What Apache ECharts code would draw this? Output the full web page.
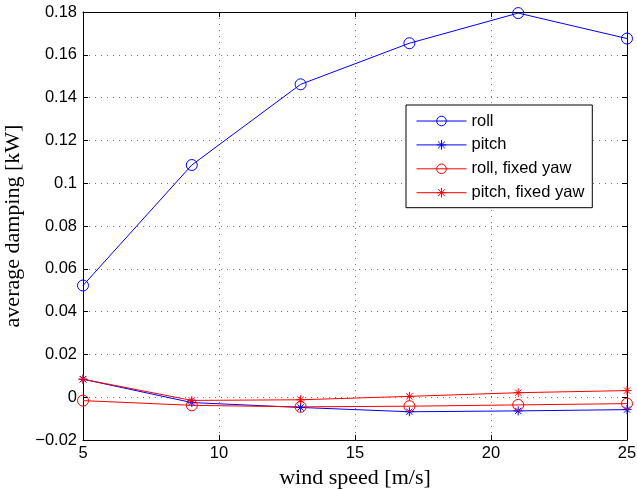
<!DOCTYPE html>
<html>
<head>
<meta charset="utf-8">
<script src="https://cdn.jsdelivr.net/npm/echarts@6/dist/echarts.min.js"></script>
<style>
  html, body { margin: 0; padding: 0; background: #fff; }
  #chart { width: 637px; height: 490px; }
</style>
</head>
<body>
<div id="chart"></div>
<script>
// wind speeds [m/s]
const windSpeed = [5, 9, 13, 17, 21, 25];
// average damping [kW]
const roll = [0.0522, 0.1085, 0.1462, 0.1654, 0.1795, 0.1676];
const pitch = [0.0084, -0.0025, -0.0048, -0.0068, -0.0064, -0.0058];
const rollFixedYaw = [-0.0016, -0.0038, -0.0045, -0.0042, -0.0036, -0.0030];
const pitchFixedYaw = [0.0084, -0.0015, -0.0012, 0.0004, 0.0021, 0.0031];

const seriesNames = ['roll', 'pitch', 'roll, fixed yaw', 'pitch, fixed yaw'];

// asterisk marker: plus and cross overlaid, stroked only
const asterisk = 'path://M5,0L5,10M0,5L10,5M1.5,1.5L8.5,8.5M1.5,8.5L8.5,1.5';

const pairs = arr => windSpeed.map((x, i) => [x, arr[i]]);

function makeSeries(name, data, color, marker) {
  const isCircle = marker === 'o';
  return {
    name: name,
    type: 'line',
    data: pairs(data),
    symbol: isCircle ? 'circle' : asterisk,
    symbolSize: isCircle ? 11 : 9,
    lineStyle: { color: color, width: 1 },
    itemStyle: { color: 'transparent', borderColor: color, borderWidth: 1 },
    emphasis: { disabled: true },
    animation: false,
    z: 3
  };
}

const tickFmt = v => {
  const s = String(Math.round(v * 100) / 100);
  return s.replace('-', '\u2212');
};

const chart = echarts.init(document.getElementById('chart'), null, { renderer: 'canvas' });

const axisFont = { fontFamily: 'Liberation Sans', fontSize: 16.5, color: '#000' };
const titleFont = { fontFamily: 'Liberation Serif', fontSize: 22, color: '#000' };
const gridLine = { show: true, lineStyle: { color: '#777', width: 1, type: [1, 5] } };

chart.setOption({
  backgroundColor: '#fff',
  animation: false,
  grid: { left: 83, right: 10, top: 12, bottom: 50, outerBoundsMode: 'none', containLabel: false },
  xAxis: [
    {
      type: 'value', min: 5, max: 25, interval: 5,
      name: 'wind speed [m/s]', nameLocation: 'middle', nameGap: 24,
      nameTextStyle: titleFont,
      axisLine: { show: true, onZero: false, lineStyle: { color: '#000', width: 1 } },
      axisTick: { show: true, inside: true, length: 5, lineStyle: { color: '#000' } },
      axisLabel: Object.assign({ margin: 5 }, axisFont),
      splitLine: gridLine
    },
    {
      type: 'value', min: 5, max: 25, interval: 5, position: 'top',
      axisLine: { show: true, onZero: false, lineStyle: { color: '#000', width: 1 } },
      axisTick: { show: true, inside: true, length: 5, lineStyle: { color: '#000' } },
      axisLabel: { show: false },
      splitLine: { show: false }
    }
  ],
  yAxis: [
    {
      type: 'value', min: -0.02, max: 0.18, interval: 0.02,
      name: 'average damping [kW]', nameLocation: 'middle', nameGap: 42,
      nameTextStyle: titleFont,
      axisLine: { show: true, onZero: false, lineStyle: { color: '#000', width: 1 } },
      axisTick: { show: true, inside: true, length: 5, lineStyle: { color: '#000' } },
      axisLabel: Object.assign({ margin: 6, formatter: tickFmt }, axisFont),
      splitLine: gridLine
    },
    {
      type: 'value', min: -0.02, max: 0.18, interval: 0.02, position: 'right',
      axisLine: { show: true, onZero: false, lineStyle: { color: '#000', width: 1 } },
      axisTick: { show: true, inside: true, length: 5, lineStyle: { color: '#000' } },
      axisLabel: { show: false },
      splitLine: { show: false }
    }
  ],
  legend: {
    data: seriesNames,
    orient: 'vertical',
    left: 406, top: 105,
    padding: [7.5, 8, 6.5, 10],
    itemWidth: 50, itemHeight: 12, itemGap: 6.9,
    backgroundColor: '#fff',
    borderColor: '#000', borderWidth: 1,
    lineStyle: { width: 1 },
    itemStyle: { borderWidth: 1 },
    textStyle: { fontFamily: 'Liberation Sans', fontSize: 16.5, color: '#000' },
    selectedMode: false
  },
  series: [
    makeSeries(seriesNames[0], roll, '#0000ff', 'o'),
    makeSeries(seriesNames[1], pitch, '#0000ff', '*'),
    makeSeries(seriesNames[2], rollFixedYaw, '#ff0000', 'o'),
    makeSeries(seriesNames[3], pitchFixedYaw, '#ff0000', '*')
  ]
});
</script>
</body>
</html>
